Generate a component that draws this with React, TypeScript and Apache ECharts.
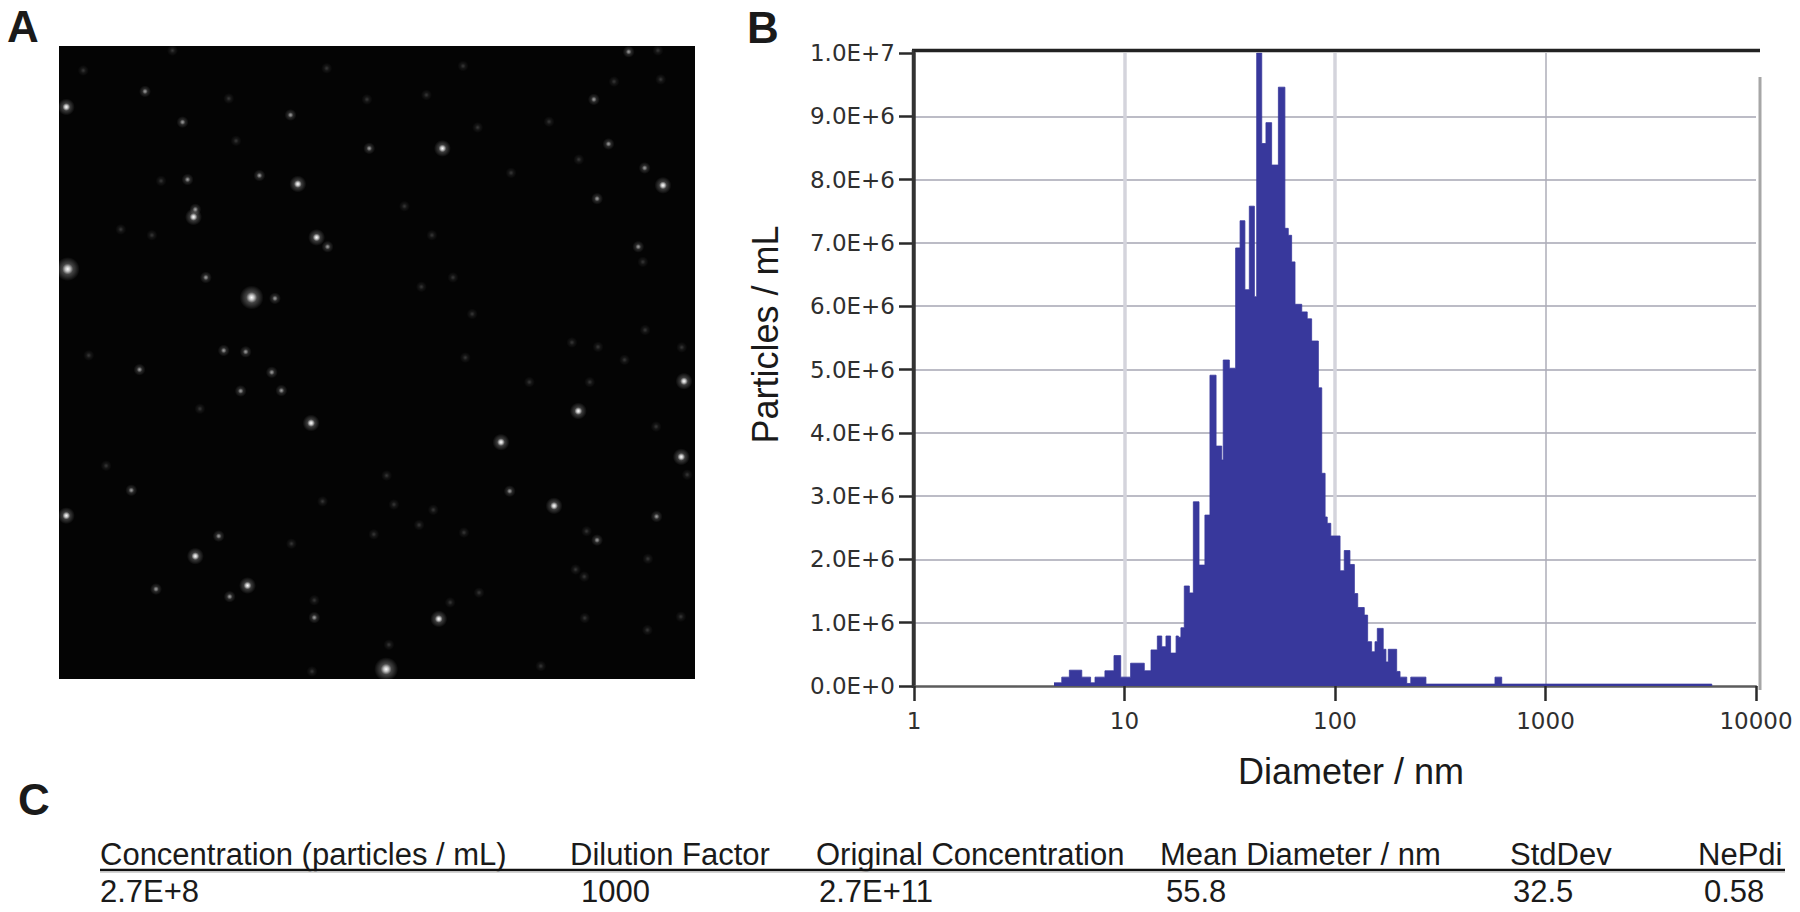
import React, { useEffect, useRef } from "react";
import * as echarts from "echarts";

// Panel B: histogram bins (log10 of the left edge in nm, value in millions of particles / mL)
const binStartLog10Nm = [
  0.665, 0.702, 0.738, 0.797, 0.839, 0.86, 0.907, 0.95, 0.982, 1.029, 1.094, 1.126, 1.156, 1.177, 1.197, 1.219,
  1.245, 1.256, 1.268, 1.284, 1.308, 1.327, 1.354, 1.382, 1.406, 1.435, 1.462, 1.469, 1.498, 1.528, 1.549, 1.572,
  1.593, 1.617, 1.628, 1.652, 1.672, 1.699, 1.731, 1.762, 1.778, 1.794, 1.81, 1.842, 1.868, 1.889, 1.921, 1.937,
  1.953, 1.963, 1.98, 2.024, 2.044, 2.071, 2.092, 2.108, 2.139, 2.155, 2.174, 2.19, 2.201, 2.229, 2.242, 2.253,
  2.293, 2.309, 2.341, 2.36, 2.432, 2.76, 2.792, 3.79,
];
const binMillions = [
  0.05, 0.14, 0.25, 0.14, 0.05, 0.14, 0.24, 0.48, 0.14, 0.36, 0.24, 0.57, 0.79, 0.62, 0.79, 0.52,
  0.79, 0.77, 0.92, 1.58, 1.47, 2.91, 1.91, 2.7, 4.91, 3.79, 3.57, 5.15, 5.02, 6.92, 7.35, 6.26,
  7.58, 6.15, 10.0, 8.57, 8.9, 8.23, 9.46, 7.23, 7.12, 6.7, 6.03, 5.91, 5.8, 5.45, 4.71, 3.36,
  2.67, 2.57, 2.37, 1.82, 2.14, 1.92, 1.46, 1.24, 1.12, 0.7, 0.54, 0.7, 0.91, 0.58, 0.38, 0.58,
  0.23, 0.14, 0.04, 0.14, 0.03, 0.14, 0.03, 0,
];
const yTickLabels = [
  "0.0E+0", "1.0E+6", "2.0E+6", "3.0E+6", "4.0E+6", "5.0E+6", "6.0E+6", "7.0E+6", "8.0E+6", "9.0E+6", "1.0E+7",
];
const xTickLabels = ["1", "10", "100", "1000", "10000"];
const wideGridDiameters = [10, 100];

// Panel A: particle spots (image coordinates)
const brightestSpots = [
  [146, 601], [548, 665], [842, 1500],
];
const brightSpots = [
  [425, 1246], [1209, 1133], [143, 237], [539, 1312], [1093, 990], [1262, 920], [678, 947], [965, 330], [649, 410],
  [690, 530], [421, 484], [1447, 413], [1493, 853], [1487, 1023], [957, 1387], [143, 1155],
];
const midSpots = [
  [1328, 320], [1296, 220], [1303, 443], [1393, 551], [1433, 1157], [1303, 1210], [685, 1384], [476, 1201],
  [285, 1098], [487, 784], [425, 467], [397, 271], [315, 202], [599, 667], [535, 787], [592, 833], [613, 874],
  [524, 875], [303, 827], [448, 620], [408, 400], [565, 391], [633, 255], [805, 330], [714, 551], [500, 1337],
  [339, 1320], [1372, 113], [1407, 374], [1112, 1100],
];
const dimSpots = [
  [514, 313], [498, 218], [942, 525], [919, 641], [988, 620], [1030, 702], [882, 460], [1042, 283], [1436, 110],
  [1263, 355], [1403, 585], [1408, 738], [1248, 766], [1305, 776], [1363, 805], [1488, 777], [1287, 855],
  [1155, 855], [1432, 955], [1500, 1063], [843, 1065], [703, 1123], [859, 1130], [945, 1142], [914, 1176],
  [815, 1197], [1012, 1193], [1280, 1190], [1414, 1252], [1256, 1276], [1275, 1292], [1045, 1328], [982, 1350],
  [1276, 1385], [1180, 1493], [1413, 1412], [1486, 1382], [685, 1345], [635, 1218], [230, 1043], [435, 915],
  [1015, 800], [192, 795], [350, 403], [262, 512], [330, 525], [180, 155], [712, 150], [1010, 145], [800, 220],
  [930, 210], [1115, 385], [1198, 270], [1340, 180], [1442, 175], [848, 1445], [680, 1505], [375, 110],
];

// Panel C: summary table
const tableHeaders = [
  "Concentration (particles / mL)", "Dilution Factor", "Original Concentration", "Mean Diameter / nm", "StdDev", "NePdi",
];
const tableValues = ["2.7E+8", "1000", "2.7E+11", "55.8", "32.5", "0.58"];

const headerX = [100, 570, 816, 1160, 1510, 1698];
const valueX = [100, 581, 819, 1166, 1513, 1704];

const BAR_BLUE = "#38389c";
const GRID_GREY = "#bcbcc6";
const SANS = "'Liberation Sans', Arial, sans-serif";

function glow(core: number, halo: number) {
  return {
    type: "radial",
    x: 0.5,
    y: 0.5,
    r: 0.5,
    colorStops: [
      { offset: 0, color: `rgba(255,255,255,${core})` },
      { offset: 0.2, color: `rgba(255,255,255,${core * 0.75})` },
      { offset: 0.45, color: `rgba(255,255,255,${halo})` },
      { offset: 1, color: "rgba(255,255,255,0)" },
    ],
  };
}

function spotSeries(data: number[][], size: number, core: number, halo: number) {
  return {
    type: "scatter",
    xAxisIndex: 0,
    yAxisIndex: 0,
    data,
    symbol: "circle",
    symbolSize: size,
    silent: true,
    itemStyle: { color: glow(core, halo), opacity: 1 },
  };
}

function buildOption() {
  const histogram = binStartLog10Nm.map((edge, i) => [Math.pow(10, edge), binMillions[i] * 1e6]);
  const textStyle = (text: string, x: number, y: number, size = 31, weight = "normal") => ({
    type: "text",
    x,
    y,
    silent: true,
    style: { text, fontFamily: SANS, fontSize: size, fontWeight: weight, fill: "#1a1a1a", verticalAlign: "middle" },
  });
  const graphicLine = (x1: number, y1: number, x2: number, y2: number, stroke: string, lineWidth: number) => ({
    type: "line",
    silent: true,
    z: 50,
    shape: { x1, y1, x2, y2 },
    style: { stroke, lineWidth },
  });

  return {
    animation: false,
    backgroundColor: "#ffffff",
    grid: [
      { left: 59, top: 46, width: 636, height: 633, show: true, backgroundColor: "#040404", borderWidth: 0 },
      { left: 914, top: 53, width: 842, height: 633, show: false },
    ],
    xAxis: [
      { gridIndex: 0, type: "value", min: 127, max: 1517, show: false },
      {
        gridIndex: 1,
        type: "log",
        logBase: 10,
        min: 1,
        max: 10000,
        offset: 2,
        name: "Diameter / nm",
        nameLocation: "middle",
        nameGap: 65,
        nameTextStyle: { fontFamily: SANS, fontSize: 36, color: "#1a1a1a", padding: [0, 0, 0, 32] },
        axisLine: { show: true, lineStyle: { color: "#5c5c5c", width: 2.5 } },
        axisTick: { show: true, length: 15, lineStyle: { color: "#2a2a2a", width: 2.5 } },
        minorTick: { show: false },
        axisLabel: {
          show: true,
          margin: 21,
          fontFamily: "'DejaVu Sans', sans-serif",
          fontSize: 23,
          color: "#2f2f2f",
          showMinLabel: true,
          showMaxLabel: true,
          formatter: (v: number) => xTickLabels[Math.round(Math.log10(v))],
        },
        splitLine: { show: true, showMinLine: false, showMaxLine: false, lineStyle: { color: "#aeaeb8", width: 1.5 } },
      },
    ],
    yAxis: [
      { gridIndex: 0, type: "value", min: 100, max: 1522, inverse: true, show: false },
      {
        gridIndex: 1,
        type: "value",
        min: 0,
        max: 1e7,
        interval: 1e6,
        name: "Particles / mL",
        nameLocation: "middle",
        nameGap: 131,
        nameTextStyle: { fontFamily: SANS, fontSize: 36, color: "#1a1a1a", padding: [0, 0, 0, 70] },
        axisLine: { show: true, lineStyle: { color: "#333333", width: 2.5 } },
        axisTick: { show: true, length: 15, lineStyle: { color: "#2a2a2a", width: 2.5 } },
        axisLabel: {
          show: true,
          margin: 19,
          fontFamily: "'DejaVu Sans', sans-serif",
          fontSize: 23,
          color: "#2f2f2f",
          formatter: (v: number) => yTickLabels[Math.round(v / 1e6)],
        },
        splitLine: { show: true, showMinLine: false, showMaxLine: false, lineStyle: { color: GRID_GREY, width: 2 } },
      },
    ],
    series: [
      spotSeries(dimSpots, 11, 0.2, 0.07),
      spotSeries(midSpots, 12, 0.6, 0.15),
      spotSeries(brightSpots, 17, 1, 0.22),
      spotSeries(brightestSpots, 24, 1, 0.26),
      {
        type: "line",
        xAxisIndex: 1,
        yAxisIndex: 1,
        data: [],
        z: 1,
        silent: true,
        markLine: {
          z: 1,
          silent: true,
          symbol: "none",
          label: { show: false },
          lineStyle: { color: "#d4d4dc", width: 3.5, type: "solid" },
          data: wideGridDiameters.map((d) => ({ xAxis: d })),
        },
      },
      {
        type: "line",
        xAxisIndex: 1,
        yAxisIndex: 1,
        data: histogram,
        step: "end",
        z: 3,
        showSymbol: false,
        symbol: "none",
        silent: true,
        lineStyle: { color: BAR_BLUE, width: 0.8 },
        areaStyle: { color: BAR_BLUE, opacity: 1 },
      },
    ],
    graphic: [
      textStyle("A", 7, 26, 44, "bold"),
      textStyle("B", 747, 27, 44, "bold"),
      textStyle("C", 18, 799, 44, "bold"),
      graphicLine(912, 50.5, 1760, 50.5, "#222222", 3.5),
      graphicLine(913, 50, 913, 688, "#333333", 2.5),
      graphicLine(1760, 77, 1760, 690, "#a6a6a6", 3),
      graphicLine(100, 870, 1785, 870, "#111111", 2.5),
      graphicLine(100, 872, 1785, 872, "#c4c4c4", 1.5),
      ...tableHeaders.map((t, i) => textStyle(t, headerX[i], 854, 31)),
      ...tableValues.map((t, i) => textStyle(t, valueX[i], 891, 31)),
    ],
  };
}

export default function App() {
  const ref = useRef<HTMLDivElement>(null);
  useEffect(() => {
    document.body.style.margin = "0";
    const chart = echarts.init(ref.current as HTMLDivElement, undefined, { renderer: "svg" });
    chart.setOption(buildOption() as any);
    return () => chart.dispose();
  }, []);
  return <div ref={ref} style={{ width: 1800, height: 912 }} />;
}
